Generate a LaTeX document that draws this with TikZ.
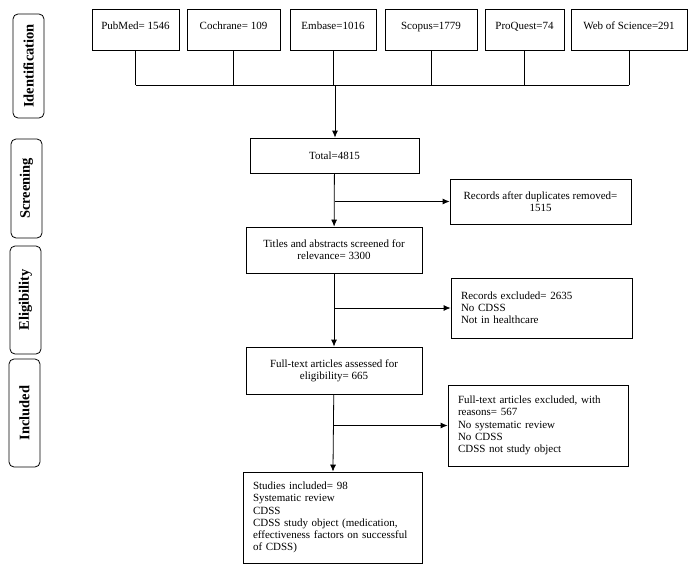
\documentclass[tikz,border=0pt]{standalone}
\usepackage{fontspec}
\setmainfont{Liberation Serif}
\usepackage{tikz}
\usetikzlibrary{arrows.meta}

\begin{document}
\begin{tikzpicture}[x=1pt,y=-1pt,line width=0.8pt,
    font=\fontsize{11}{12.2}\selectfont,
    phase/.style={draw,rounded corners=5pt,rotate=90,inner sep=0pt,
      minimum height=31pt,font=\fontsize{14.5}{17}\selectfont\bfseries},
    srcbox/.style={draw,inner sep=0pt,minimum height=41pt,text height=17pt,text depth=18pt},
    midbox/.style={draw,align=center,inner sep=0pt},
    listbox/.style={draw,align=left,inner xsep=10pt,inner ysep=0pt},
    flow/.style={-{Latex[length=7pt,width=6pt]}}]
\useasboundingbox (0,0) rectangle (696,570);

% phases
\node[phase,minimum width=104pt] (ident) at (28.5,66) {Identification};
\node[phase,minimum width=99pt] (screen) at (26.5,188.5) {Screening};
\node[phase,minimum width=108pt] (elig) at (25.5,300) {Eligibility};
\node[phase,minimum width=108pt] (incl) at (24.5,413) {Included};

% databases
\node[srcbox,minimum width=87pt] (pubmed) at (135.5,29.5) {PubMed= 1546};
\node[srcbox,minimum width=93pt] (cochrane) at (233.5,29.5) {Cochrane= 109};
\node[srcbox,minimum width=86pt] (embase) at (333,29.5) {Embase=1016};
\node[srcbox,minimum width=92pt] (scopus) at (431,29.5) {Scopus=1779};
\node[srcbox,minimum width=79pt] (proquest) at (524.5,29.5) {ProQuest=74};
\node[srcbox,minimum width=116pt] (wos) at (629,29.5) {Web of Science=291};
\coordinate (merge) at (335,85);

% flow
\node[midbox,minimum width=169pt,minimum height=35pt] (total) at (334.5,155.5) {Total=4815};
\node[midbox,minimum width=181pt,minimum height=45pt] (dup) at (540.5,201.5)
  {Records after duplicates removed=\\ 1515};
\node[midbox,minimum width=176pt,minimum height=46pt] (titles) at (334,250)
  {Titles and abstracts screened for\\ relevance= 3300};
\node[listbox,text width=161pt,minimum height=60pt] (excl) at (541.5,308)
  {Records excluded= 2635\\ No CDSS\\ Not in healthcare\\[4pt]};
\node[midbox,minimum width=176pt,minimum height=47pt] (fulltext) at (334,370.5)
  {Full-text articles assessed for\\ eligibility= 665};
\node[listbox,text width=160pt,minimum height=81pt] (fullexcl) at (538,425.5)
  {Full-text articles excluded, with\\ reasons= 567\\ No systematic review\\ No CDSS\\ CDSS not study object};
\node[listbox,text width=159pt,minimum height=91pt] (studies) at (332.5,517.5)
  {Studies included= 98\\ Systematic review\\ CDSS\\ CDSS study object (medication,\\ effectiveness factors on successful\\ of CDSS)};

\foreach \db in {pubmed,cochrane,embase,scopus,proquest,wos}
  \draw (\db.south) -- (\db.south |- merge);
\draw (pubmed.south |- merge) -- (wos.south |- merge);
\draw[flow] (merge) -- (merge |- total.north);
\draw[flow] (total) -- (titles);
\draw[flow] (titles) -- (fulltext);
\draw[flow] (fulltext) -- (studies);
\draw[flow] (total.south |- dup.west) -- (dup.west);
\draw[flow] (titles.south |- excl.west) -- (excl.west);
\draw[flow] (fulltext.south |- fullexcl.west) -- (fullexcl.west);
\end{tikzpicture}
\end{document}
